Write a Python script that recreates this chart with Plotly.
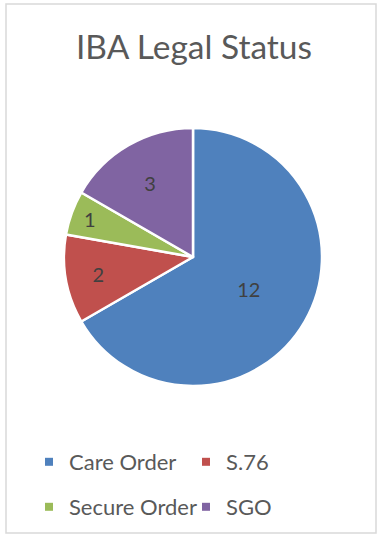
import plotly.graph_objects as go

categories = ["Care Order", "S.76", "Secure Order", "SGO"]
values = [12, 2, 1, 3]
colors = ["#4F81BD", "#C0504D", "#9BBB59", "#8064A2"]
title_text = "IBA Legal Status"

W, H = 381, 541
cx, cy, r = 193, 257, 129

fig = go.Figure()
fig.add_trace(go.Pie(
    labels=categories,
    values=values,
    sort=False,
    direction="clockwise",
    rotation=0,
    textinfo="value",
    textposition="inside",
    insidetextorientation="horizontal",
    textfont=dict(family="Lato", size=20, color="#404040"),
    marker=dict(colors=colors, line=dict(color="white", width=2.5)),
    domain=dict(x=[(cx - r) / W, (cx + r) / W], y=[(H - cy - r) / H, (H - cy + r) / H]),
    hoverinfo="label+value",
    showlegend=False,
))

# legend entries (two rows, as in the reference)
legend_rows = ["legend", "legend", "legend2", "legend2"]
for name, col, lg in zip(categories, colors, legend_rows):
    fig.add_trace(go.Scatter(
        x=[None], y=[None], mode="markers", name=name,
        marker=dict(symbol="square", size=8, color=col),
        legend=lg, showlegend=True, hoverinfo="skip",
    ))

legend_common = dict(orientation="h", xanchor="left", yanchor="middle",
                     entrywidth=112, entrywidthmode="pixels",
                     font=dict(family="Lato", size=22, color="#595959"),
                     itemwidth=30, bgcolor="rgba(0,0,0,0)")

fig.update_layout(
    width=W, height=H,
    margin=dict(l=0, r=0, t=0, b=0, autoexpand=False),
    paper_bgcolor="white",
    plot_bgcolor="white",
    xaxis=dict(visible=False),
    yaxis=dict(visible=False),
    title=dict(text=title_text, x=194 / W, xanchor="center", y=1 - 47 / H, yanchor="middle",
               font=dict(family="Lato", size=33.5, color="#595959")),
    showlegend=True,
    legend=dict(x=29 / W, y=1 - 462 / H, **legend_common),
    legend2=dict(x=29 / W, y=1 - 507 / H, **legend_common),
    shapes=[dict(type="rect", xref="paper", yref="paper",
                 x0=6 / W, x1=376 / W, y0=1 - 533 / H, y1=1 - 4 / H,
                 line=dict(color="#D9D9D9", width=1.5), fillcolor="rgba(0,0,0,0)")],
)

fig.write_html("out.html", config={"displayModeBar": False},
               post_script="document.body.style.margin='0px';")
